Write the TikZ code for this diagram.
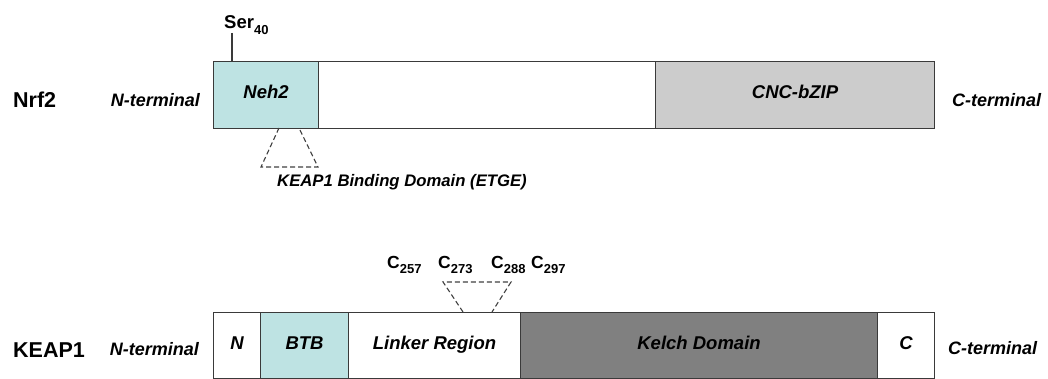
\documentclass[tikz,border=0pt]{standalone}
\usepackage{fontspec}
\setmainfont{Liberation Sans}
\definecolor{edge}{HTML}{3A3A3A}
\definecolor{cyanbox}{HTML}{BEE3E3}
\definecolor{lightbox}{HTML}{CCCCCC}
\definecolor{darkbox}{HTML}{808080}
\newcommand{\fs}[1]{\fontsize{#1}{#1}\selectfont}
\newcommand{\subtxt}[1]{\raisebox{-0.3em}{\fs{13}#1}}
\begin{document}
\begin{tikzpicture}[x=1pt,y=-1pt,
  domainbox/.style={draw=edge, line width=1.1pt, rectangle, inner sep=0pt,
    anchor=north west, minimum height=#1, text height=0.72em, text depth=0pt,
    font=\fs{18.5}\bfseries\itshape},
  domainbox/.default=67,
  protlabel/.style={anchor=base west, inner sep=0pt, font=\fs{21.5}\bfseries},
  termlabel/.style={inner sep=0pt, font=\fs{18}\bfseries\itshape},
  sitelabel/.style={anchor=base west, inner sep=0pt, font=\fs{17.5}\bfseries},
  dashline/.style={draw=black!75, line width=1.1pt, dash pattern=on 5pt off 3pt},
]
\useasboundingbox (0,0) rectangle (1048,379);

% ---------- Nrf2 ----------
\node[protlabel] (nrf2) at (13,108) {Nrf2};
\node[termlabel, anchor=base east] (nrfN) at (200,107) {N-terminal};
\node[domainbox, fill=cyanbox, minimum width=105] (neh2) at (213,61) {Neh2};
\node[domainbox, fill=white, minimum width=337] (mid) at (318,61) {};
\node[domainbox, fill=lightbox, minimum width=279] (cnc) at (655,61) {CNC-bZIP};
\node[termlabel, anchor=base west] (nrfC) at (952,107) {C-terminal};

% Ser40
\node[sitelabel, font=\fs{18.5}\bfseries] (ser) at (224,29) {Ser\subtxt{40}};
\coordinate (serTop) at (232,33);
\coordinate (serBot) at (232,61);
\draw[edge, line width=1.1pt] (serTop) -- (serBot);

% KEAP1 binding domain trapezoid
\coordinate (t1) at (279,128);
\coordinate (t2) at (261,167);
\coordinate (t3) at (318,167);
\coordinate (t4) at (299,128);
\draw[dashline] (t1) -- (t2) -- (t3) -- (t4);
\node[termlabel, font=\fs{16.7}\bfseries\itshape, anchor=base west] (etge) at (277,187) {KEAP1 Binding Domain (ETGE)};

% ---------- KEAP1 ----------
\node[protlabel] (keap1) at (13,357) {KEAP1};
\node[termlabel, anchor=base east] (keapN) at (199,355) {N-terminal};
\node[domainbox=66, fill=white, minimum width=47] (kn) at (213,312) {N};
\node[domainbox=66, fill=cyanbox, minimum width=88] (btb) at (260,312) {BTB};
\node[domainbox=66, fill=white, minimum width=172] (linker) at (348,312) {Linker Region};
\node[domainbox=66, fill=darkbox, minimum width=357] (kelch) at (520,312) {Kelch Domain};
\node[domainbox=66, fill=white, minimum width=57] (kc) at (877,312) {C};
\node[termlabel, anchor=base west] (keapC) at (948,354) {C-terminal};

% cysteines
\node[sitelabel] (c257) at (387,268) {C\subtxt{257}};
\node[sitelabel] (c273) at (438,268) {C\subtxt{273}};
\node[sitelabel] (c288) at (491,268) {C\subtxt{288}};
\node[sitelabel] (c297) at (531,268) {C\subtxt{297}};

\coordinate (k1) at (463,312);
\coordinate (k2) at (443,282);
\coordinate (k3) at (511,282);
\coordinate (k4) at (492,312);
\draw[dashline] (k1) -- (k2) -- (k3) -- (k4);
\end{tikzpicture}
\end{document}
